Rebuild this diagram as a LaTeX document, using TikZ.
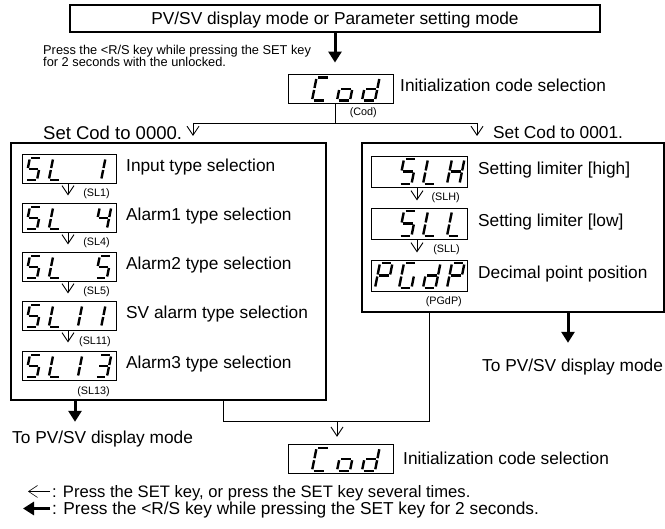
\documentclass[tikz,border=0pt]{standalone}
\usepackage{fontspec}
\setmainfont{Liberation Sans}
\usetikzlibrary{arrows.meta,calc}

% seven-segment pieces (local coords, y downwards, origin = bottom-left of digit)
\newcommand\dsga{\draw[seg] (1.5,-\segH) -- ({\segW-1.5},-\segH);}
\newcommand\dsgb{\draw[seg] (\segW,{-\segH+1.5}) -- (\segW,{-\segH/2-1});}
\newcommand\dsgc{\draw[seg] (\segW,{-\segH/2+1}) -- (\segW,-1.5);}
\newcommand\dsgd{\draw[seg] (1.5,0) -- ({\segW-1.5},0);}
\newcommand\dsge{\draw[seg] (0,-1.5) -- (0,{-\segH/2+1});}
\newcommand\dsgf{\draw[seg] (0,{-\segH/2-1}) -- (0,{-\segH+1.5});}
\newcommand\dsgg{\draw[seg] (1.5,{-\segH/2}) -- ({\segW-1.5},{-\segH/2});}
\newcommand\dsgi{\draw[seg] ({\segW/2},{-\segH+1.5}) -- ({\segW/2},{-\segH/2-1});}
\newcommand\dsgj{\draw[seg] ({\segW/2},{-\segH/2+1}) -- ({\segW/2},-1.5);}

\def\glS{a,f,g,c,d}
\def\glL{f,e,d}
\def\glI{i,j}
\def\glF{f,g,b,c}
\def\glV{a,f,g,c,d}
\def\glT{a,b,g,c,d}
\def\glC{a,f,e,d}
\def\glO{g,c,d,e}
\def\glD{b,c,d,e,g}
\def\glH{f,e,b,c,g}
\def\glP{a,b,f,g,e}
\def\glG{a,f,e,d,c}

% #1 x, #2 y (bottom-left), #3 width, #4 height, #5 segment list
\newcommand\sdigit[5]{%
  \begin{scope}[shift={(#1,#2)},xslant=0.2]
    \def\segW{#3}\def\segH{#4}%
    \edef\seglist{#5}%
    \foreach \s in \seglist {\csname dsg\s\endcsname}
  \end{scope}}

\begin{document}
\begin{tikzpicture}[x=1pt,y=-1pt,
  bigbox/.style={draw,line width=1.6pt,inner sep=0pt},
  ldisp/.style={draw,line width=0.9pt,inner sep=0pt,minimum width=94pt,minimum height=29pt},
  rdisp/.style={draw,line width=0.9pt,inner sep=0pt,minimum width=96pt,minimum height=31pt},
  cdisp/.style={draw,line width=0.9pt,inner sep=0pt,minimum width=105pt,minimum height=29.5pt},
  seg/.style={line width=2.4pt},
  lbl/.style={anchor=west,inner sep=0pt,font=\fontsize{17.3}{20}\selectfont,text height=12.4pt,text depth=0pt},
  smalltxt/.style={anchor=west,inner sep=0pt,font=\fontsize{12.8}{14}\selectfont,text height=9.2pt,text depth=0pt},
  sub/.style={anchor=east,inner sep=0pt,font=\fontsize{10.8}{12}\selectfont,text height=7.7pt,text depth=0pt},
  thin/.style={line width=0.9pt},
  thinarr/.style={line width=0.9pt,-{Straight Barb[length=9pt,width=12pt]}},
  thickarr/.style={line width=3pt,-{Triangle[length=11pt,width=13pt]}},
]
\useasboundingbox (0,0) rectangle (665,529);

% ---------- top ----------
\node[bigbox,minimum width=530pt,minimum height=27pt,font=\fontsize{17.3}{20}\selectfont,text height=12.4pt,text depth=0pt]
  (top) at (335,18.5) {PV/SV display mode or Parameter setting mode};
\node[smalltxt] (p1) at (43,50) {Press the <R/S key while pressing the SET key};
\node[smalltxt] (p2) at (43,62) {for 2 seconds with the unlocked.};

\node[cdisp] (cod1) at (340.5,88.75) {};
\sdigit{312}{100.5}{13}{23}{\glC}
\sdigit{337}{100.5}{13}{23}{\glO}
\sdigit{362}{100.5}{13}{23}{\glD}
\node[lbl] (codt1) at (400,85) {Initialization code selection};
\node[sub] (codl) at (377,112) {(Cod)};

\draw[thickarr] (top.south) -- ($(top.south |- cod1.north)+(0,-11)$);

% ---------- branch ----------
\coordinate (br) at (335,123);
\coordinate (brL) at (193,123);
\coordinate (brR) at (477,123);
\draw[thin] (cod1.south -| br) -- (br);
\draw[thin] (brL) -- (brR);
\draw[thinarr] (brL) -- ++(0,13);
\draw[thinarr] (brR) -- ++(0,13);
\node[lbl,font=\fontsize{18.5}{21}\selectfont,text height=13.2pt] (s0) at (43,133) {Set Cod to 0000.};
\node[lbl] (s1) at (493,132) {Set Cod to 0001.};

% ---------- left box ----------
\node[bigbox,minimum width=315pt,minimum height=257pt] (lbox) at (168.5,271.5) {};

\node[ldisp] (sl1) at (69,168.5) {};
\sdigit{25.5}{180}{11.5}{22}{\glS}
\sdigit{48.8}{180}{11.5}{22}{\glL}
\sdigit{95.4}{180}{11.5}{22}{\glI}
\node[lbl] (t1) at (126,165.5) {Input type selection};
\draw[thinarr] ([xshift=-1pt]sl1.south) -- ++(0,12);
\node[sub] (u1) at (110,193) {(SL1)};

\node[ldisp] (sl4) at (69,217.5) {};
\sdigit{25.5}{229}{11.5}{22}{\glS}
\sdigit{48.8}{229}{11.5}{22}{\glL}
\sdigit{95.4}{229}{11.5}{22}{\glF}
\node[lbl] (t4) at (126,214.5) {Alarm1 type selection};
\draw[thinarr] ([xshift=-1pt]sl4.south) -- ++(0,12);
\node[sub] (u4) at (110,242) {(SL4)};

\node[ldisp] (sl5) at (69,266.5) {};
\sdigit{25.5}{278}{11.5}{22}{\glS}
\sdigit{48.8}{278}{11.5}{22}{\glL}
\sdigit{95.4}{278}{11.5}{22}{\glV}
\node[lbl] (t5) at (126,263.5) {Alarm2 type selection};
\draw[thinarr] ([xshift=-1pt]sl5.south) -- ++(0,12);
\node[sub] (u5) at (110,291) {(SL5)};

\node[ldisp] (sl11) at (69,315.5) {};
\sdigit{25.5}{327}{11.5}{22}{\glS}
\sdigit{48.8}{327}{11.5}{22}{\glL}
\sdigit{72.1}{327}{11.5}{22}{\glI}
\sdigit{95.4}{327}{11.5}{22}{\glI}
\node[lbl] (t11) at (126,312.5) {SV alarm type selection};
\draw[thinarr] ([xshift=-1pt]sl11.south) -- ++(0,12);
\node[sub] (u11) at (111,341) {(SL11)};

\node[ldisp] (sl13) at (69,365.5) {};
\sdigit{25.5}{377}{11.5}{22}{\glS}
\sdigit{48.8}{377}{11.5}{22}{\glL}
\sdigit{72.1}{377}{11.5}{22}{\glI}
\sdigit{95.4}{377}{11.5}{22}{\glT}
\node[lbl] (t13) at (126,362.5) {Alarm3 type selection};
\node[sub] (u13) at (110,391) {(SL13)};

% ---------- right box ----------
\node[bigbox,minimum width=302pt,minimum height=169pt] (rbox) at (513,227.5) {};

\node[rdisp] (slh) at (419,171.5) {};
\sdigit{399}{184}{12.5}{25}{\glS}
\sdigit{423}{184}{12.5}{25}{\glL}
\sdigit{447}{184}{12.5}{25}{\glH}
\node[lbl] (th) at (478,168) {Setting limiter [high]};
\draw[thinarr] ([xshift=-2pt]slh.south) -- ++(0,13);
\node[sub] (uh) at (460,197) {(SLH)};

\node[rdisp] (sll) at (419,223.5) {};
\sdigit{399}{236}{12.5}{25}{\glS}
\sdigit{423}{236}{12.5}{25}{\glL}
\sdigit{447}{236}{12.5}{25}{\glL}
\node[lbl] (tl) at (478,220) {Setting limiter [low]};
\draw[thinarr] ([xshift=-2pt]sll.south) -- ++(0,13);
\node[sub] (ul) at (460,249) {(SLL)};

\node[rdisp] (pgdp) at (419,275.5) {};
\sdigit{375}{288}{12.5}{25}{\glP}
\sdigit{399}{288}{12.5}{25}{\glG}
\sdigit{423}{288}{12.5}{25}{\glD}
\sdigit{447}{288}{12.5}{25}{\glP}
\node[lbl] (tp) at (478,272) {Decimal point position};
\node[sub] (up) at (462,301) {(PGdP)};

% ---------- exits ----------
\draw[thickarr] ([xshift=-93.5pt]lbox.south) -- ++(0,21);
\node[lbl] (ex1) at (12,437) {To PV/SV display mode};
\draw[thickarr] ([xshift=55pt]rbox.south) -- ++(0,30);
\node[lbl] (ex2) at (482,365) {To PV/SV display mode};

\draw[thin] ([xshift=54.5pt]lbox.south) -- ++(0,21) -| ([xshift=-84pt]rbox.south);
\coordinate (mid) at (337,421);

\node[cdisp] (cod2) at (340.5,459) {};
\sdigit{312}{470.75}{13}{23}{\glC}
\sdigit{337}{470.75}{13}{23}{\glO}
\sdigit{362}{470.75}{13}{23}{\glD}
\node[lbl] (codt2) at (403,458) {Initialization code selection};
\draw[thinarr,shorten >=7pt] (mid) -- (mid |- cod2.north);

% ---------- legend ----------
\coordinate (lg1) at (50,491.5);
\coordinate (lg2) at (50,508.5);
\draw[thinarr,line width=0.6pt] (lg1) -- ++(-22,0);
\draw[thickarr] (lg2) -- ++(-27,0);
\node[lbl,font=\fontsize{16.6}{19}\selectfont,text height=11.9pt] (lt1) at (52,491.5) {: Press the SET key, or press the SET key several times.};
\node[lbl,font=\fontsize{17.3}{20}\selectfont,text height=12.4pt] (lt2) at (52,508.5) {: Press the <R/S key while pressing the SET key for 2 seconds.};
\end{tikzpicture}
\end{document}
